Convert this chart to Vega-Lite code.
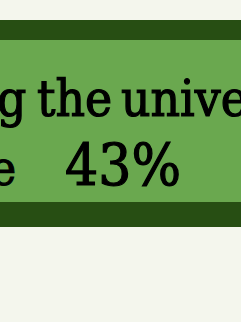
{
  "$schema": "https://vega.github.io/schema/vega-lite/v6.json",
  "width": 241,
  "height": 322,
  "autosize": "none",
  "padding": 0,
  "background": "#f4f6ed",
  "config": {"view": {"stroke": null}},
  "datasets": {
    "bands": [
      {"part": "border", "x1": 0, "x2": 241, "y1": 20, "y2": 227},
      {"part": "fill", "x1": 0, "x2": 241, "y1": 40, "y2": 202}
    ],
    "labels": [
      {"label": "g", "x": -3, "y": 116, "size": 51, "align": "left"},
      {"label": "the", "x": 37, "y": 116, "size": 51, "align": "left"},
      {"label": "unive", "x": 121, "y": 116, "size": 51, "align": "left"},
      {"label": "e", "x": 16, "y": 185, "size": 48, "align": "right"},
      {"label": "43%", "x": 65, "y": 185, "size": 58, "align": "left"}
    ]
  },
  "layer": [
    {
      "data": {"name": "bands"},
      "mark": {"type": "rect"},
      "encoding": {
        "x": {"field": "x1", "type": "quantitative", "scale": {"domain": [0, 241]}, "axis": null},
        "x2": {"field": "x2"},
        "y": {"field": "y1", "type": "quantitative", "scale": {"domain": [0, 322], "reverse": true}, "axis": null},
        "y2": {"field": "y2"},
        "color": {"field": "part", "type": "nominal", "scale": {"domain": ["border", "fill"], "range": ["#274e13", "#6aa84f"]}, "legend": null}
      }
    },
    {
      "data": {"name": "labels"},
      "transform": [{"filter": "datum.align == 'left'"}],
      "mark": {"type": "text", "font": "DejaVu Serif Condensed", "align": "left", "baseline": "alphabetic", "color": "#000", "stroke": "#000", "strokeWidth": 1.2},
      "encoding": {
        "x": {"field": "x", "type": "quantitative", "scale": {"domain": [0, 241]}, "axis": null},
        "y": {"field": "y", "type": "quantitative", "scale": {"domain": [0, 322], "reverse": true}, "axis": null},
        "size": {"field": "size", "type": "quantitative", "scale": null, "legend": null},
        "text": {"field": "label"}
      }
    },
    {
      "data": {"name": "labels"},
      "transform": [{"filter": "datum.align == 'right'"}],
      "mark": {"type": "text", "font": "DejaVu Serif Condensed", "align": "right", "baseline": "alphabetic", "color": "#000", "stroke": "#000", "strokeWidth": 1.2},
      "encoding": {
        "x": {"field": "x", "type": "quantitative", "scale": {"domain": [0, 241]}, "axis": null},
        "y": {"field": "y", "type": "quantitative", "scale": {"domain": [0, 322], "reverse": true}, "axis": null},
        "size": {"field": "size", "type": "quantitative", "scale": null, "legend": null},
        "text": {"field": "label"}
      }
    }
  ]
}
